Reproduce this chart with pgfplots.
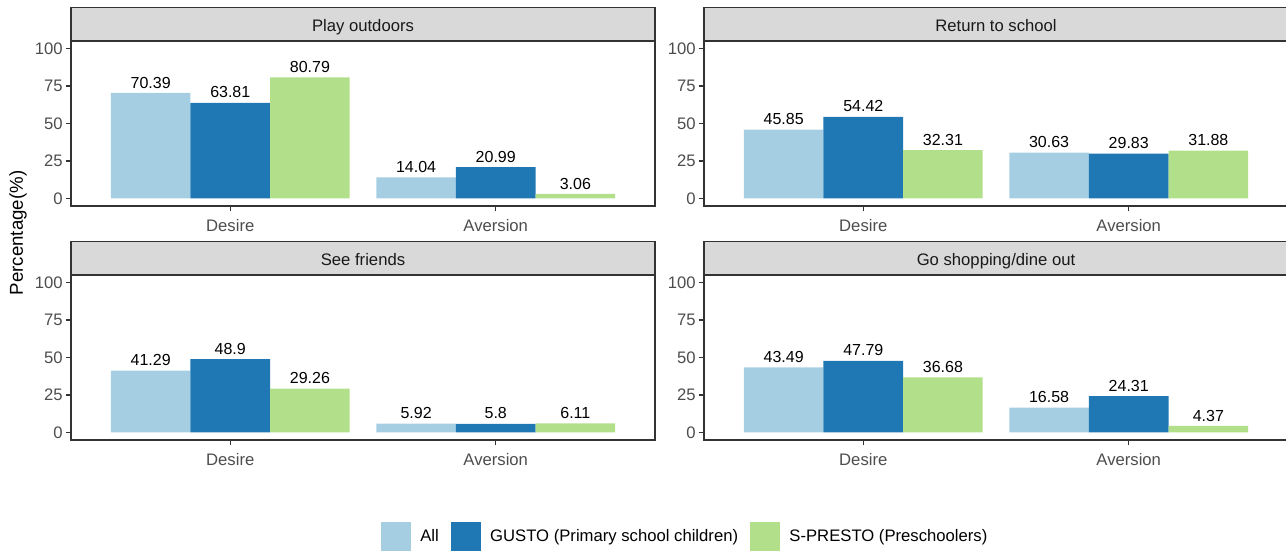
\documentclass[border=0pt]{standalone}
\usepackage{fontspec}
\setmainfont{Liberation Sans}
\usepackage{pgfplots}
\pgfplotsset{compat=1.18}
\definecolor{cAll}{HTML}{A6CEE3}
\definecolor{cGU}{HTML}{1F78B4}
\definecolor{cSP}{HTML}{B2DF8A}
\definecolor{gthirty}{HTML}{4D4D4D}
\definecolor{gtwenty}{HTML}{333333}
\definecolor{gstrip}{HTML}{D9D9D9}
\tikzset{stripnode/.style={anchor=south, minimum width=438pt, minimum height=24.75pt,
      text height=17.75pt, text depth=7pt,
      fill=gstrip, draw=gtwenty, line width=0.9pt, inner sep=0pt,
      font=\fontsize{12.5}{14}\selectfont, text=black!90}}
\pgfplotsset{
  legsq/.style={legend image code/.code={\fill[##1] (0pt,-10.875pt) rectangle (22.5pt,10.875pt);}},
  panel/.style={
    scale only axis, width=438pt, height=123.75pt,
    xmin=0.4, xmax=2.6, ymin=-5, ymax=105,
    axis line style={gtwenty, line width=0.9pt},
    xtick={1,2}, xticklabels={Desire,Aversion},
    ytick={0,25,50,75,100},
    xtick pos=bottom, ytick pos=left,
    tick style={gtwenty, line width=0.8pt},
    tick align=outside, major tick length=4.1pt,
    ticklabel style={font=\fontsize{12.5}{14}\selectfont, text=gthirty},
    yticklabel style={inner xsep=2pt},
    xticklabel style={inner ysep=6pt},
    /pgf/number format/assume math mode=true,
    ybar, bar width=0.3,
    point meta=explicit symbolic,
    nodes near coords={\pgfplotspointmeta},
    nodes near coords style={font=\fontsize{12}{14}\selectfont, text=black, anchor=south},
    clip=false,
  },
  sAll/.style={fill=cAll, draw=none, bar shift=-0.3},
  sGU/.style={fill=cGU, draw=none, bar shift=0},
  sSP/.style={fill=cSP, draw=none, bar shift=0.3},
}
\begin{document}
\begin{tikzpicture}
\path[use as bounding box] (0,0) rectangle (964.5pt,417pt);
% Panel 1
\begin{axis}[panel, at={(53.25pt,262.5pt)}, anchor=south west,
  extra description/.code={\node[stripnode] at (axis description cs:0.5,1) {Play outdoors};}]
\addplot[sAll] coordinates {(1,70.39)[70.39] (2,14.04)[14.04]};
\addplot[sGU] coordinates {(1,63.81)[63.81] (2,20.99)[20.99]};
\addplot[sSP] coordinates {(1,80.79)[80.79] (2,3.06)[3.06]};
\end{axis}
% Panel 2
\begin{axis}[panel, at={(528pt,262.5pt)}, anchor=south west,
  extra description/.code={\node[stripnode] at (axis description cs:0.5,1) {Return to school};}]
\addplot[sAll] coordinates {(1,45.85)[45.85] (2,30.63)[30.63]};
\addplot[sGU] coordinates {(1,54.42)[54.42] (2,29.83)[29.83]};
\addplot[sSP] coordinates {(1,32.31)[32.31] (2,31.88)[31.88]};
\end{axis}
% Panel 3
\begin{axis}[panel, at={(53.25pt,87pt)}, anchor=south west,
  extra description/.code={\node[stripnode] at (axis description cs:0.5,1) {See friends};},
  ylabel={Percentage(\%)},
  ylabel style={at={(axis description cs:-0.0908,1.255)}, anchor=center, font=\fontsize{14}{16}\selectfont, text=black},
  legend columns=3,
  legend style={at={(axis description cs:1.052,-0.585)}, anchor=center, draw=none, fill=none,
    font=\fontsize{12.5}{14}\selectfont, column sep=5.25pt,
    /tikz/every even column/.append style={column sep=6.75pt}},
]
\addplot[sAll, legsq] coordinates {(1,41.29)[41.29] (2,5.92)[5.92]};
\addlegendentry{All}
\addplot[sGU, legsq] coordinates {(1,48.9)[48.9] (2,5.8)[5.8]};
\addlegendentry{GUSTO (Primary school children)}
\addplot[sSP, legsq] coordinates {(1,29.26)[29.26] (2,6.11)[6.11]};
\addlegendentry{S-PRESTO (Preschoolers)}
\end{axis}
% Panel 4
\begin{axis}[panel, at={(528pt,87pt)}, anchor=south west,
  extra description/.code={\node[stripnode] at (axis description cs:0.5,1) {Go shopping/dine out};}]
\addplot[sAll] coordinates {(1,43.49)[43.49] (2,16.58)[16.58]};
\addplot[sGU] coordinates {(1,47.79)[47.79] (2,24.31)[24.31]};
\addplot[sSP] coordinates {(1,36.68)[36.68] (2,4.37)[4.37]};
\end{axis}
\end{tikzpicture}
\end{document}
